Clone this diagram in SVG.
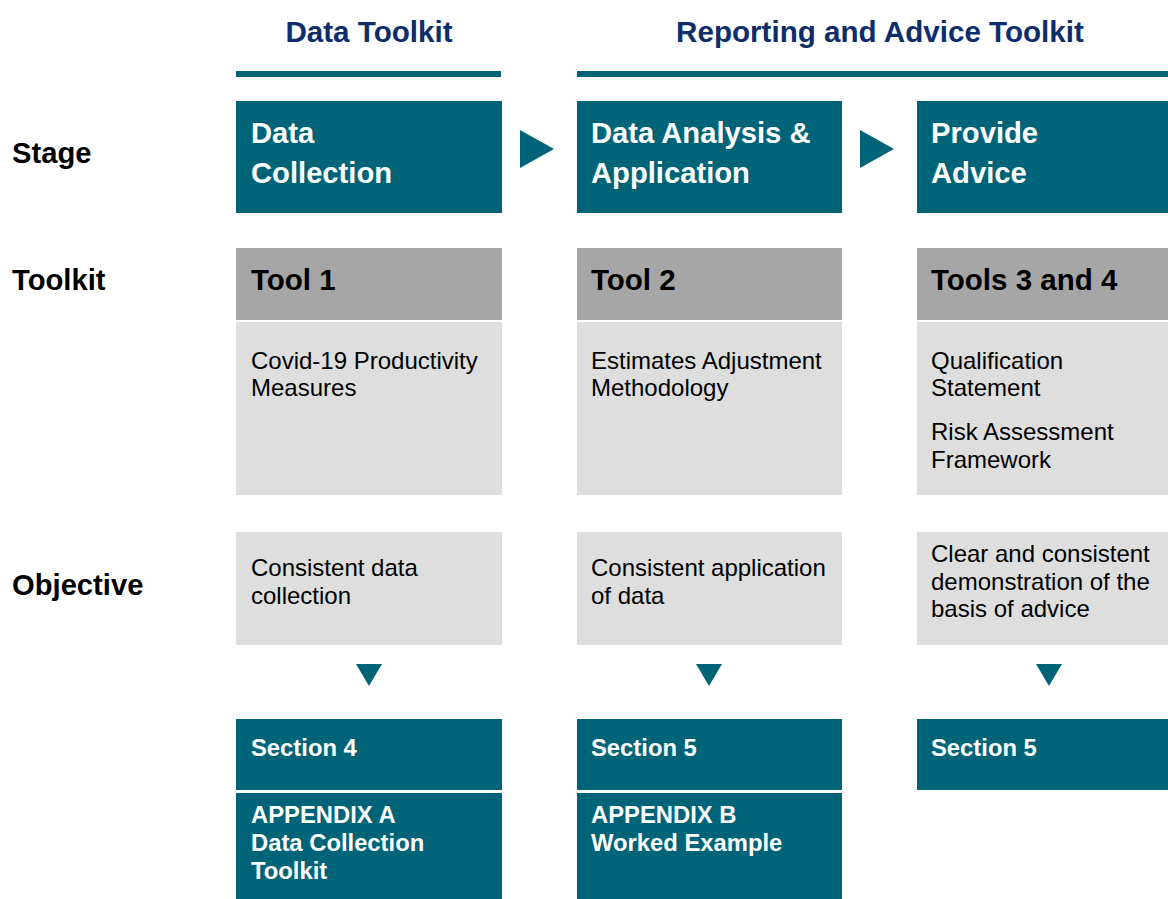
<svg xmlns="http://www.w3.org/2000/svg" width="1168" height="899" viewBox="0 0 1168 899">
  <style>
    .teal { fill: #006479; }
    .hdr { fill: #a6a6a6; }
    .body { fill: #dedede; }
    text { font-family: "Liberation Sans", Arial, sans-serif; }
    .group { font-size: 29.6px; font-weight: bold; fill: #0e2d6b; }
    .row { font-size: 29.2px; font-weight: bold; fill: #000; }
    .stage { font-size: 29.2px; font-weight: bold; fill: #fff; }
    .tool { font-size: 29.5px; font-weight: bold; fill: #000; }
    .desc { font-size: 24px; fill: #000; }
    .sect { font-size: 23.8px; font-weight: bold; fill: #fff; }
  </style>

  <!-- Toolkit group headings -->
  <g id="group-data">
    <text class="group" x="369" y="42" text-anchor="middle">Data Toolkit</text>
    <rect class="teal" x="236" y="71" width="265" height="6"/>
  </g>
  <g id="group-reporting">
    <text class="group" x="880" y="42" text-anchor="middle">Reporting and Advice Toolkit</text>
    <rect class="teal" x="577" y="71" width="591" height="6"/>
  </g>

  <!-- Row labels -->
  <g id="row-labels">
    <text class="row" x="12" y="163">Stage</text>
    <text class="row" x="12" y="290">Toolkit</text>
    <text class="row" x="12" y="595">Objective</text>
  </g>

  <!-- Column 1 -->
  <g id="stage-data-collection">
    <rect class="teal" x="236" y="101" width="266" height="112"/>
    <text class="stage" x="251" y="143">Data</text>
    <text class="stage" x="251" y="183">Collection</text>
  </g>
  <g id="tool-1">
    <rect class="hdr" x="236" y="248" width="266" height="72"/>
    <text class="tool" x="251" y="290">Tool 1</text>
    <rect class="body" x="236" y="322" width="266" height="173"/>
    <text class="desc" x="251" y="369">Covid-19 Productivity</text>
    <text class="desc" x="251" y="396">Measures</text>
  </g>
  <g id="objective-1">
    <rect class="body" x="236" y="532" width="266" height="113"/>
    <text class="desc" x="251" y="576">Consistent data</text>
    <text class="desc" x="251" y="604">collection</text>
  </g>
  <g id="section-4">
    <rect class="teal" x="236" y="719" width="266" height="71"/>
    <text class="sect" x="251" y="756">Section 4</text>
  </g>
  <g id="appendix-a">
    <rect class="teal" x="236" y="793" width="266" height="106"/>
    <text class="sect" x="251" y="823">APPENDIX A</text>
    <text class="sect" x="251" y="851">Data Collection</text>
    <text class="sect" x="251" y="879">Toolkit</text>
  </g>

  <!-- Column 2 -->
  <g id="stage-analysis">
    <rect class="teal" x="577" y="101" width="265" height="112"/>
    <text class="stage" x="591" y="143">Data Analysis &amp;</text>
    <text class="stage" x="591" y="183">Application</text>
  </g>
  <g id="tool-2">
    <rect class="hdr" x="577" y="248" width="265" height="72"/>
    <text class="tool" x="591" y="290">Tool 2</text>
    <rect class="body" x="577" y="322" width="265" height="173"/>
    <text class="desc" x="591" y="369">Estimates Adjustment</text>
    <text class="desc" x="591" y="396">Methodology</text>
  </g>
  <g id="objective-2">
    <rect class="body" x="577" y="532" width="265" height="113"/>
    <text class="desc" x="591" y="576">Consistent application</text>
    <text class="desc" x="591" y="604">of data</text>
  </g>
  <g id="section-5a">
    <rect class="teal" x="577" y="719" width="265" height="71"/>
    <text class="sect" x="591" y="756">Section 5</text>
  </g>
  <g id="appendix-b">
    <rect class="teal" x="577" y="793" width="265" height="106"/>
    <text class="sect" x="591" y="823">APPENDIX B</text>
    <text class="sect" x="591" y="851">Worked Example</text>
  </g>

  <!-- Column 3 -->
  <g id="stage-advice">
    <rect class="teal" x="917" y="101" width="251" height="112"/>
    <text class="stage" x="931" y="143">Provide</text>
    <text class="stage" x="931" y="183">Advice</text>
  </g>
  <g id="tools-3-4">
    <rect class="hdr" x="917" y="248" width="251" height="72"/>
    <text class="tool" x="931" y="290">Tools 3 and 4</text>
    <rect class="body" x="917" y="322" width="251" height="173"/>
    <text class="desc" x="931" y="369">Qualification</text>
    <text class="desc" x="931" y="396">Statement</text>
    <text class="desc" x="931" y="440">Risk Assessment</text>
    <text class="desc" x="931" y="468">Framework</text>
  </g>
  <g id="objective-3">
    <rect class="body" x="917" y="532" width="251" height="113"/>
    <text class="desc" x="931" y="562">Clear and consistent</text>
    <text class="desc" x="931" y="590">demonstration of the</text>
    <text class="desc" x="931" y="617">basis of advice</text>
  </g>
  <g id="section-5b">
    <rect class="teal" x="917" y="719" width="251" height="71"/>
    <text class="sect" x="931" y="756">Section 5</text>
  </g>

  <!-- Connectors: flow triangles -->
  <g id="connectors" class="teal">
    <polygon points="520,130 554,149 520,168"/>
    <polygon points="860,130 894,149 860,168"/>
    <polygon points="356,664 382,664 369,686"/>
    <polygon points="696,664 722,664 709,686"/>
    <polygon points="1036,664 1062,664 1049,686"/>
  </g>
</svg>
